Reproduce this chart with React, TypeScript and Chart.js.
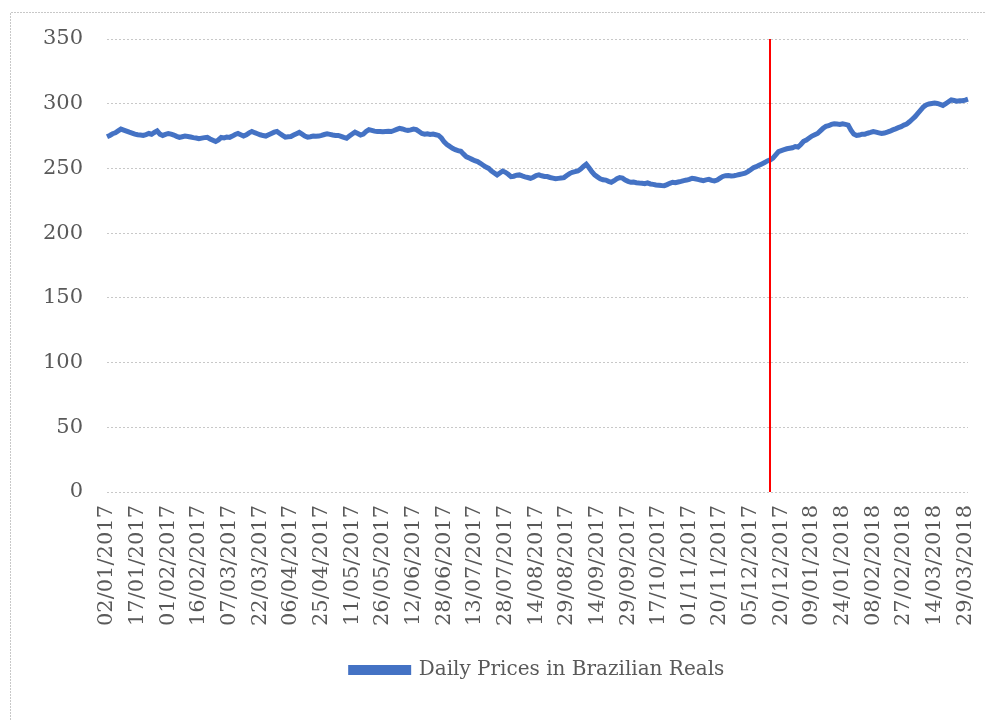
import React, { useEffect, useRef } from "react";
import { Chart, registerables } from "chart.js";

Chart.register(...registerables);

// Tick labels shown every 11 trading days
const tickLabels = [
  "02/01/2017", "17/01/2017", "01/02/2017", "16/02/2017", "07/03/2017", "22/03/2017",
  "06/04/2017", "25/04/2017", "11/05/2017", "26/05/2017", "12/06/2017", "28/06/2017",
  "13/07/2017", "28/07/2017", "14/08/2017", "29/08/2017", "14/09/2017", "29/09/2017",
  "17/10/2017", "01/11/2017", "20/11/2017", "05/12/2017", "20/12/2017", "09/01/2018",
  "24/01/2018", "08/02/2018", "27/02/2018", "14/03/2018", "29/03/2018",
];
const LABEL_STEP = 11;

// Daily prices (Brazilian Reals)
const dailyPrices = [
  274.5, 275.5, 276.8, 277.5, 279.0, 280.4, 279.6, 278.8, 278.0, 277.3,
  276.5, 276.0, 275.8, 275.5, 276.2, 277.0, 276.4, 277.8, 279.0, 276.5,
  275.5, 276.3, 277.0, 276.5, 275.8, 274.8, 274.0, 274.5, 275.0, 274.7,
  274.3, 273.8, 273.5, 273.0, 273.4, 273.8, 274.0, 272.8, 271.8, 270.8,
  272.0, 274.0, 273.6, 274.2, 274.0, 275.0, 276.2, 277.0, 276.0, 275.0,
  276.0, 277.5, 278.5, 277.6, 276.8, 276.0, 275.4, 275.0, 276.0, 277.0,
  278.0, 278.5, 277.0, 275.5, 274.2, 274.5, 274.7, 275.8, 276.8, 277.8,
  276.5, 275.0, 274.2, 274.5, 275.0, 274.8, 275.0, 275.5, 276.2, 276.7,
  276.3, 275.8, 275.5, 275.5, 274.8, 274.0, 273.4, 275.0, 276.6, 278.0,
  277.0, 275.8, 276.5, 278.5, 280.0, 279.4, 278.8, 278.5, 278.6, 278.3,
  278.5, 278.7, 278.5, 279.3, 280.2, 281.0, 280.5, 279.8, 279.3, 279.8,
  280.4, 280.0, 278.5, 277.0, 276.5, 276.8, 276.3, 276.5, 276.0, 275.5,
  273.5, 270.5, 268.5, 267.0, 265.6, 264.5, 263.8, 263.2, 261.0, 259.0,
  258.0, 257.0, 256.0, 255.3, 254.0, 252.5, 251.0, 250.0, 248.0, 246.5,
  245.0, 246.5, 248.0, 247.0, 245.5, 243.7, 244.0, 244.8, 245.0, 244.2,
  243.5, 243.0, 242.4, 243.2, 244.5, 245.0, 244.3, 243.8, 243.7, 243.0,
  242.5, 242.0, 242.3, 242.6, 242.9, 244.5, 246.0, 247.0, 247.5, 248.0,
  249.5, 251.5, 253.2, 250.5, 247.5, 245.0, 243.5, 242.0, 241.2, 241.0,
  240.0, 239.3, 240.5, 242.0, 242.9, 242.5, 241.0, 240.0, 239.3, 239.5,
  239.0, 238.7, 238.5, 238.2, 238.8, 238.0, 237.7, 237.2, 237.0, 236.8,
  236.7, 237.5, 238.5, 239.3, 239.0, 239.5, 240.0, 240.6, 241.0, 241.5,
  242.4, 242.0, 241.5, 241.0, 240.6, 241.2, 241.6, 240.8, 240.3, 241.0,
  242.5, 243.8, 244.4, 244.6, 244.2, 244.4, 244.8, 245.3, 245.8, 246.3,
  247.5, 249.0, 250.5, 251.4, 252.5, 253.5, 254.5, 255.8, 256.6, 258.0,
  260.5, 263.0, 263.8, 264.5, 265.2, 265.6, 266.0, 266.9, 266.5, 268.5,
  271.0, 272.0, 273.5, 275.0, 276.0, 277.0, 279.0, 281.0, 282.5, 283.0,
  284.0, 284.5, 284.3, 284.0, 284.5, 284.0, 283.5, 279.5, 276.5, 275.5,
  275.8, 276.5, 276.5, 277.2, 277.8, 278.5, 278.0, 277.5, 277.0, 277.3,
  278.0, 278.8, 279.8, 280.6, 281.5, 282.3, 283.5, 284.3, 286.0, 288.0,
  290.0, 292.5, 295.0, 297.5, 299.0, 299.8, 300.2, 300.5, 300.2, 299.5,
  298.7, 300.0, 301.5, 303.0, 302.5, 302.0, 302.3, 302.3, 302.8, 303.5,
];

const categories = dailyPrices.map((_, i) => i);

// Index of the red marker line (about 14/12/2017)
const MARKER_INDEX = 238;

const Y_MIN = 0;
const Y_MAX = 350;
const Y_STEP = 50;

const FONT = "'DejaVu Serif', serif";
const TEXT = "#595959";

export default function App() {
  const ref = useRef<HTMLCanvasElement | null>(null);

  useEffect(() => {
    if (!ref.current) return;

    const frame = {
      id: "frame",
      beforeDraw(chart: any) {
        const ctx = chart.ctx;
        ctx.save();
        ctx.strokeStyle = "#c8c8c8";
        ctx.lineWidth = 1;
        ctx.setLineDash([2, 1]);
        ctx.beginPath();
        ctx.moveTo(10.5, chart.height);
        ctx.lineTo(10.5, 12.5);
        ctx.lineTo(chart.width, 12.5);
        ctx.stroke();
        ctx.restore();
      },
    };

    const marker = {
      id: "marker",
      afterDatasetsDraw(chart: any) {
        const x = chart.scales.x.getPixelForValue(MARKER_INDEX);
        const y0 = chart.scales.y.getPixelForValue(Y_MAX);
        const y1 = chart.scales.y.getPixelForValue(Y_MIN);
        const ctx = chart.ctx;
        ctx.save();
        ctx.strokeStyle = "#ff0000";
        ctx.lineWidth = 2;
        ctx.beginPath();
        ctx.moveTo(Math.round(x), y0);
        ctx.lineTo(Math.round(x), y1);
        ctx.stroke();
        ctx.restore();
      },
    };

    const chart = new Chart(ref.current, {
      type: "line",
      data: {
        labels: categories,
        datasets: [
          {
            label: "Daily Prices in Brazilian Reals",
            data: dailyPrices,
            borderColor: "#4472c4",
            backgroundColor: "#4472c4",
            borderWidth: 5,
            pointRadius: 0,
            tension: 0,
          },
        ],
      },
      options: {
        animation: false,
        responsive: false,
        layout: { padding: { left: 20, right: 18, top: 39, bottom: 30 } },
        scales: {
          x: {
            type: "category",
            offset: false,
            grid: { display: false, drawTicks: false },
            border: { display: false },
            afterFit(scale: any) {
              scale.height = 158;
              scale.paddingLeft = 0;
              scale.paddingRight = 0;
            },
            ticks: {
              autoSkip: false,
              minRotation: 90,
              maxRotation: 90,
              padding: 13,
              color: TEXT,
              font: { family: FONT, size: 21 },
              callback: (_v: any, i: number) =>
                i % LABEL_STEP === 0 ? tickLabels[i / LABEL_STEP] : null,
            },
          },
          y: {
            min: Y_MIN,
            max: Y_MAX,
            afterFit(scale: any) {
              scale.width = 87;
            },
            grid: {
              color: "#c8c8c8",
              lineWidth: 1,
              drawTicks: false,
            },
            border: { display: false, dash: [2, 2] },
            ticks: {
              stepSize: Y_STEP,
              padding: 24,
              color: TEXT,
              font: { family: FONT, size: 21 },
            },
          },
        },
        plugins: {
          legend: {
            position: "bottom",
            fullSize: false,
            labels: {
              boxWidth: 58,
              boxHeight: 5,
              padding: 10,
              color: TEXT,
              font: { family: FONT, size: 20 },
            },
          },
          tooltip: { enabled: false },
        },
      },
      plugins: [frame, marker],
    } as any);

    return () => chart.destroy();
  }, []);

  return (
    <div style={{ position: "fixed", left: 0, top: 0, width: 986, height: 720, background: "#fff" }}>
      <canvas ref={ref} width={986} height={720} />
    </div>
  );
}
